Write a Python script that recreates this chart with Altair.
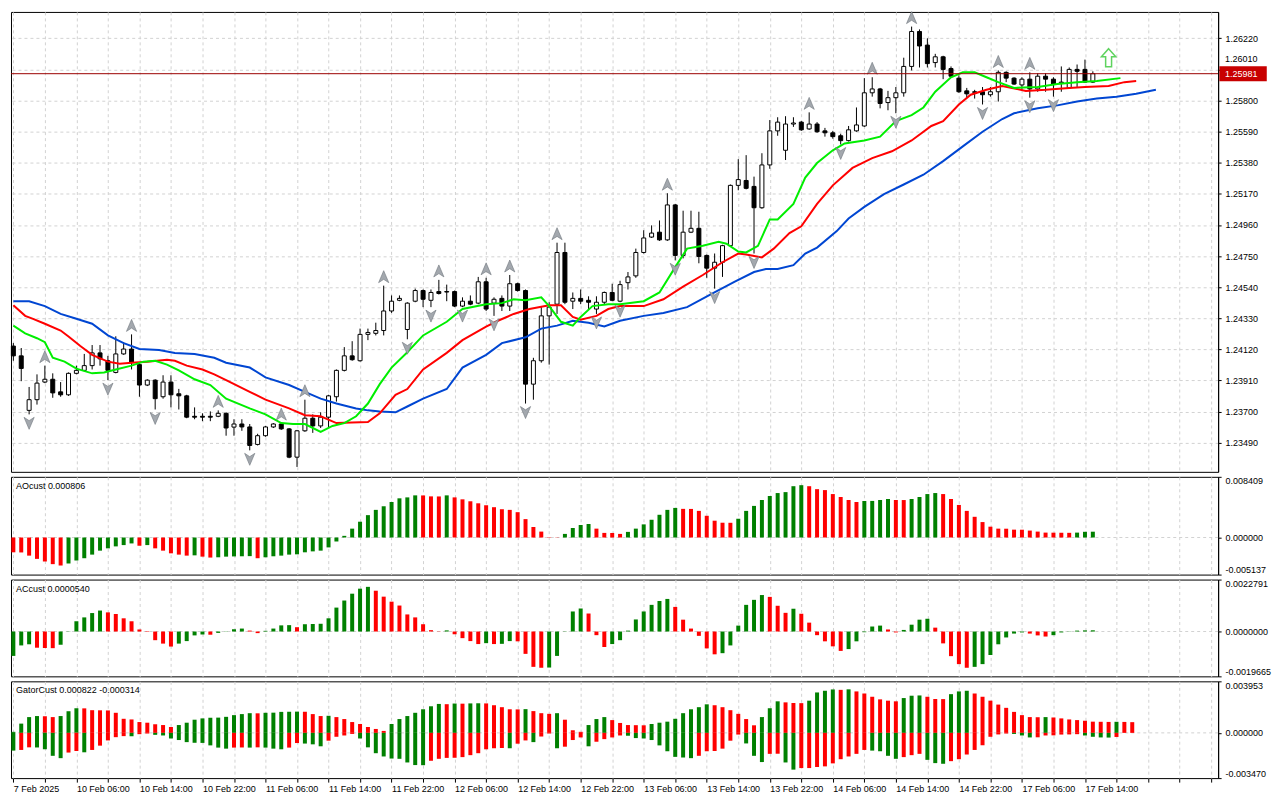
import altair as alt
import pandas as pd

# ---------------- data ----------------
time_labels = ["7 Feb 2025", "10 Feb 06:00", "10 Feb 14:00", "10 Feb 22:00", "11 Feb 06:00",
               "11 Feb 14:00", "11 Feb 22:00", "12 Feb 06:00", "12 Feb 14:00", "12 Feb 22:00",
               "13 Feb 06:00", "13 Feb 14:00", "13 Feb 22:00", "14 Feb 06:00", "14 Feb 14:00",
               "14 Feb 22:00", "17 Feb 06:00", "17 Feb 14:00"]

opens = [1.24142, 1.24076, 1.23708, 1.23780, 1.23899, 1.23918, 1.23833, 1.23813, 1.23958, 1.23978,
         1.24010, 1.24096, 1.24043, 1.23964, 1.24089, 1.24122, 1.24017, 1.23879, 1.23912, 1.23800,
         1.23899, 1.23820, 1.23806, 1.23668, 1.23668, 1.23668, 1.23668, 1.23688, 1.23595, 1.23616,
         1.23596, 1.23478, 1.23537, 1.23596, 1.23616, 1.23583, 1.23392, 1.23570, 1.23655, 1.23603,
         1.23662, 1.23800, 1.23978, 1.24076, 1.24043, 1.24221, 1.24228, 1.24247, 1.24379, 1.24451,
         1.24254, 1.24445, 1.24517, 1.24451, 1.24510, 1.24510, 1.24510, 1.24412, 1.24445, 1.24432,
         1.24576, 1.24432, 1.24464, 1.24412, 1.24563, 1.24517, 1.23885, 1.24043, 1.24346, 1.24425,
         1.24774, 1.24445, 1.24464, 1.24451, 1.24392, 1.24438, 1.24504, 1.24445, 1.24570, 1.24616,
         1.24774, 1.24878, 1.24911, 1.24859, 1.25095, 1.24754, 1.24911, 1.24937, 1.24754, 1.24668,
         1.24708, 1.24820, 1.25227, 1.25260, 1.25220, 1.25076, 1.25365, 1.25595, 1.25464, 1.25641,
         1.25654, 1.25608, 1.25641, 1.25595, 1.25582, 1.25562, 1.25529, 1.25595, 1.25628, 1.25852,
         1.25878, 1.25786, 1.25819, 1.25852, 1.26030, 1.26266, 1.26174, 1.26056, 1.26095, 1.26016,
         1.25951, 1.25865, 1.25859, 1.25859, 1.25839, 1.25859, 1.25990, 1.25951, 1.25905, 1.25944,
         1.25878, 1.25964, 1.25944, 1.25918, 1.25885, 1.26010, 1.26010, 1.25924]
highs = [1.24162, 1.24129, 1.23866, 1.23951, 1.24010, 1.23958, 1.23899, 1.23964, 1.24010, 1.24089,
         1.24149, 1.24149, 1.24076, 1.24208, 1.24168, 1.24221, 1.24030, 1.23918, 1.23918, 1.23945,
         1.23945, 1.23853, 1.23813, 1.23728, 1.23688, 1.23701, 1.23708, 1.23694, 1.23648, 1.23648,
         1.23616, 1.23550, 1.23603, 1.23622, 1.23622, 1.23589, 1.23576, 1.23780, 1.23681, 1.23695,
         1.23813, 1.23984, 1.24135, 1.24175, 1.24260, 1.24260, 1.24300, 1.24550, 1.24484, 1.24484,
         1.24438, 1.24530, 1.24524, 1.24524, 1.24589, 1.24557, 1.24517, 1.24471, 1.24484, 1.24609,
         1.24603, 1.24471, 1.24484, 1.24622, 1.24570, 1.24524, 1.24063, 1.24405, 1.24438, 1.24840,
         1.24840, 1.24504, 1.24524, 1.24478, 1.24478, 1.24510, 1.24563, 1.24583, 1.24642, 1.24800,
         1.24924, 1.24957, 1.24990, 1.25174, 1.25102, 1.25056, 1.25056, 1.25049, 1.24760, 1.24767,
         1.24826, 1.25233, 1.25404, 1.25431, 1.25286, 1.25444, 1.25668, 1.25687, 1.25694, 1.25687,
         1.25661, 1.25720, 1.25654, 1.25615, 1.25595, 1.25576, 1.25628, 1.25753, 1.25951, 1.25957,
         1.25885, 1.25865, 1.25891, 1.26089, 1.26299, 1.26280, 1.26220, 1.26115, 1.26102, 1.26030,
         1.25970, 1.25885, 1.25872, 1.25891, 1.25891, 1.26003, 1.25997, 1.25957, 1.25957, 1.25990,
         1.25984, 1.25984, 1.25957, 1.26030, 1.26023, 1.26043, 1.26076, 1.25997]
lows = [1.24043, 1.23905, 1.23681, 1.23747, 1.23892, 1.23793, 1.23800, 1.23806, 1.23951, 1.23971,
        1.23984, 1.24010, 1.23912, 1.23958, 1.24083, 1.23984, 1.23800, 1.23872, 1.23714, 1.23787,
        1.23728, 1.23714, 1.23655, 1.23648, 1.23635, 1.23635, 1.23662, 1.23537, 1.23537, 1.23570,
        1.23438, 1.23471, 1.23530, 1.23589, 1.23576, 1.23385, 1.23326, 1.23563, 1.23556, 1.23589,
        1.23589, 1.23767, 1.23971, 1.24043, 1.24037, 1.24182, 1.24214, 1.24214, 1.24366, 1.24445,
        1.24188, 1.24438, 1.24405, 1.24405, 1.24490, 1.24445, 1.24405, 1.24405, 1.24418, 1.24425,
        1.24379, 1.24346, 1.24379, 1.24379, 1.24510, 1.23754, 1.23780, 1.24030, 1.24017, 1.24359,
        1.24425, 1.24392, 1.24425, 1.24392, 1.24359, 1.24425, 1.24445, 1.24438, 1.24524, 1.24603,
        1.24767, 1.24872, 1.24852, 1.24852, 1.24721, 1.24734, 1.24905, 1.24701, 1.24603, 1.24530,
        1.24609, 1.24813, 1.25194, 1.25200, 1.24767, 1.25069, 1.25339, 1.25562, 1.25398, 1.25622,
        1.25595, 1.25602, 1.25582, 1.25556, 1.25542, 1.25503, 1.25523, 1.25589, 1.25622, 1.25826,
        1.25747, 1.25734, 1.25714, 1.25826, 1.26003, 1.26023, 1.26023, 1.26023, 1.25944, 1.25957,
        1.25852, 1.25819, 1.25813, 1.25773, 1.25826, 1.25793, 1.25924, 1.25905, 1.25872, 1.25819,
        1.25859, 1.25859, 1.25826, 1.25859, 1.25878, 1.25885, 1.25918, 1.25918]
closes = [1.24076, 1.23991, 1.23780, 1.23892, 1.23918, 1.23826, 1.23813, 1.23958, 1.23978, 1.24010,
          1.24096, 1.24056, 1.23978, 1.24089, 1.24122, 1.24030, 1.23879, 1.23912, 1.23787, 1.23899,
          1.23813, 1.23806, 1.23662, 1.23662, 1.23662, 1.23662, 1.23688, 1.23589, 1.23616, 1.23596,
          1.23471, 1.23537, 1.23596, 1.23616, 1.23583, 1.23392, 1.23570, 1.23655, 1.23603, 1.23662,
          1.23806, 1.23978, 1.24076, 1.24050, 1.24221, 1.24234, 1.24247, 1.24379, 1.24445, 1.24464,
          1.24432, 1.24517, 1.24458, 1.24504, 1.24497, 1.24507, 1.24412, 1.24445, 1.24425, 1.24576,
          1.24392, 1.24458, 1.24412, 1.24563, 1.24517, 1.23885, 1.24043, 1.24346, 1.24405, 1.24774,
          1.24438, 1.24464, 1.24445, 1.24438, 1.24438, 1.24504, 1.24451, 1.24557, 1.24609, 1.24774,
          1.24872, 1.24905, 1.24859, 1.25095, 1.24754, 1.24911, 1.24937, 1.24747, 1.24668, 1.24708,
          1.24820, 1.25227, 1.25266, 1.25207, 1.25076, 1.25365, 1.25595, 1.25654, 1.25641, 1.25648,
          1.25602, 1.25641, 1.25589, 1.25582, 1.25556, 1.25529, 1.25602, 1.25635, 1.25852, 1.25878,
          1.25780, 1.25819, 1.25852, 1.26030, 1.26266, 1.26168, 1.26049, 1.26095, 1.26010, 1.25964,
          1.25859, 1.25845, 1.25855, 1.25839, 1.25859, 1.25990, 1.25951, 1.25911, 1.25944, 1.25878,
          1.25964, 1.25944, 1.25911, 1.25924, 1.26010, 1.25997, 1.25924, 1.25981]

jaw_i = [0, 2, 4, 6, 8, 10, 12, 14, 16, 18.5, 20.5, 23, 25.5, 27, 30, 32, 35, 37, 39, 41, 43.5, 45,
         46.5, 48.5, 50, 52, 55, 57, 60, 62, 65, 67, 69, 71, 73, 75, 77, 80, 82.5, 85.5, 88.5, 91.5,
         94, 95.5, 97, 99, 100.5, 102, 104.5, 106, 108, 110.5, 113, 115.5, 118, 120.5, 123, 125.5,
         127, 130, 132.5, 135, 137.5, 140, 142.5, 145]
jaw_v = [1.24445, 1.24445, 1.24412, 1.24359, 1.24326, 1.24293, 1.24214, 1.24162, 1.24122, 1.24116,
         1.24096, 1.24089, 1.24063, 1.24030, 1.23997, 1.23931, 1.23879, 1.23833, 1.23787, 1.23754,
         1.23721, 1.23708, 1.23701, 1.23695, 1.23734, 1.23787, 1.23852, 1.23997, 1.24083, 1.24162,
         1.24201, 1.24260, 1.24280, 1.24313, 1.24300, 1.24274, 1.24313, 1.24346, 1.24366, 1.24405,
         1.24491, 1.24576, 1.24642, 1.24662, 1.24662, 1.24688, 1.24767, 1.24807, 1.24918, 1.25003,
         1.25082, 1.25168, 1.25233, 1.25299, 1.25391, 1.25490, 1.25589, 1.25675, 1.25714, 1.25747,
         1.25767, 1.25793, 1.25813, 1.25826, 1.25845, 1.25872]
teeth_i = [0, 1.5, 2.5, 4, 6, 7, 8.5, 10, 12, 13.5, 15, 17, 19.5, 20.5, 22, 24, 25.5, 27, 30, 32,
           35, 37, 39, 41, 45, 46.5, 48.5, 50, 52, 55, 57, 60, 61.5, 63.5, 65.5, 68, 69.5, 71, 72,
           74, 75.5, 77, 80, 82.5, 85, 87.5, 90, 92, 93, 95, 96.5, 98.5, 100, 102, 104, 106.5, 109,
           111.5, 114, 116.5, 118, 120, 121.5, 123.5, 125.5, 128.5, 131, 134, 136, 139, 141, 142.5]
teeth_v = [1.24418, 1.24346, 1.24326, 1.24293, 1.24247, 1.24207, 1.24142, 1.24083, 1.24037, 1.24023,
           1.24030, 1.24037, 1.24050, 1.24043, 1.24010, 1.23984, 1.23951, 1.23912, 1.23833, 1.23780,
           1.23721, 1.23675, 1.23668, 1.23622, 1.23629, 1.23688, 1.23813, 1.23852, 1.23984, 1.24096,
           1.24182, 1.24274, 1.24313, 1.24359, 1.24392, 1.24418, 1.24418, 1.24339, 1.24320, 1.24346,
           1.24392, 1.24412, 1.24412, 1.24458, 1.24543, 1.24622, 1.24708, 1.24767, 1.24760, 1.24741,
           1.24800, 1.24905, 1.24951, 1.25102, 1.25227, 1.25345, 1.25411, 1.25457, 1.25530, 1.25628,
           1.25661, 1.25773, 1.25839, 1.25872, 1.25898, 1.25865, 1.25872, 1.25885, 1.25891, 1.25898,
           1.25924, 1.25931]
lips_i = [0, 1.5, 3, 4, 5, 6.5, 8, 10, 11.5, 13, 15, 16.5, 18, 19.5, 21, 23, 25, 27, 30, 32, 34,
          35.5, 37, 39, 40.5, 42, 43.5, 45, 46.5, 48, 50, 52, 55, 57, 60, 62, 63.5, 65, 67, 68, 69.5,
          71, 72, 73.5, 75.5, 77, 80, 82, 84, 85.5, 87.5, 89.5, 90.5, 92, 93, 94.5, 96, 97, 99, 100.5,
          102, 104, 105.5, 108, 110, 112, 114, 115.5, 117, 119, 120.5, 122, 123.5, 125, 127, 130,
          132.5, 135, 137.5, 140.5]
lips_v = [1.24280, 1.24228, 1.24195, 1.24168, 1.24063, 1.24037, 1.23990, 1.23958, 1.23964, 1.23984,
          1.24010, 1.24037, 1.24043, 1.24017, 1.23978, 1.23918, 1.23879, 1.23787, 1.23721, 1.23681,
          1.23622, 1.23616, 1.23616, 1.23563, 1.23603, 1.23622, 1.23668, 1.23754, 1.23885, 1.23997,
          1.24100, 1.24214, 1.24306, 1.24392, 1.24425, 1.24432, 1.24458, 1.24451, 1.24471, 1.24412,
          1.24306, 1.24280, 1.24339, 1.24412, 1.24425, 1.24425, 1.24445, 1.24504, 1.24675, 1.24800,
          1.24819, 1.24846, 1.24833, 1.24780, 1.24774, 1.24819, 1.24997, 1.24997, 1.25102, 1.25280,
          1.25378, 1.25464, 1.25510, 1.25530, 1.25556, 1.25661, 1.25701, 1.25753, 1.25859, 1.25957,
          1.25990, 1.25990, 1.25957, 1.25924, 1.25885, 1.25891, 1.25911, 1.25924, 1.25931, 1.25951]

up_fractals = [4, 15, 26, 34, 37, 47, 54, 60, 63, 69, 83, 101, 109, 114, 125, 129]
down_fractals = [2, 12, 18, 30, 50, 53, 57, 61, 65, 74, 77, 84, 89, 94, 105, 112, 123, 129, 132]
signal_i = [139]
signal_v = [1.26089]
current_price = 1.25981
price_ticks = [1.23490, 1.23700, 1.23910, 1.24120, 1.24330, 1.24540, 1.24750, 1.24960,
               1.25170, 1.25380, 1.25590, 1.25800, 1.26010, 1.26220]
hidden_tick = [1.26010]   # tick whose label sits right above the current-price box

ao = [-0.00205, -0.00207, -0.00251, -0.00296, -0.00333, -0.00369, -0.00388, -0.00360, -0.00319, -0.00287,
      -0.00237, -0.00182, -0.00150, -0.00123, -0.00105, -0.00082, -0.00114, -0.00105, -0.00150, -0.00182,
      -0.00219, -0.00237, -0.00251, -0.00247, -0.00265, -0.00278, -0.00274, -0.00265, -0.00262, -0.00260,
      -0.00258, -0.00287, -0.00274, -0.00260, -0.00251, -0.00237, -0.00233, -0.00205, -0.00192, -0.00182,
      -0.00137, -0.00055, 0.00023, 0.00123, 0.00219, 0.00310, 0.00383, 0.00433, 0.00492, 0.00543,
      0.00556, 0.00584, 0.00583, 0.00570, 0.00569, 0.00584, 0.00556, 0.00529, 0.00502, 0.00474,
      0.00447, 0.00420, 0.00392, 0.00383, 0.00351, 0.00255, 0.00146, 0.00082, 0.00005, -0.00003,
      0.00050, 0.00132, 0.00173, 0.00187, 0.00123, 0.00064, 0.00063, 0.00050, 0.00078, 0.00123,
      0.00182, 0.00246, 0.00315, 0.00383, 0.00410, 0.00397, 0.00396, 0.00369, 0.00301, 0.00233,
      0.00205, 0.00204, 0.00260, 0.00369, 0.00438, 0.00520, 0.00575, 0.00616, 0.00629, 0.00711,
      0.00725, 0.00711, 0.00670, 0.00657, 0.00602, 0.00561, 0.00520, 0.00492, 0.00506, 0.00507,
      0.00520, 0.00534, 0.00520, 0.00519, 0.00534, 0.00561, 0.00602, 0.00616, 0.00602, 0.00534,
      0.00451, 0.00369, 0.00287, 0.00214, 0.00150, 0.00123, 0.00122, 0.00109, 0.00108, 0.00096,
      0.00082, 0.00068, 0.00067, 0.00066, 0.00065, 0.00068, 0.00079, 0.000806]
ac = [-0.00107, -0.00061, -0.00056, -0.00071, -0.00072, -0.00073, -0.00058, 0.00001, 0.00045, 0.00062,
      0.00081, 0.00092, 0.00084, 0.00077, 0.00058, 0.00045, 0.00009, 0.00002, -0.00038, -0.00053,
      -0.00066, -0.00053, -0.00042, -0.00017, -0.00013, -0.00014, -0.00006, -0.00001, 0.00010, 0.00013,
      0.00004, -0.00007, 0.00003, 0.00013, 0.00027, 0.00028, 0.00019, 0.00032, 0.00033, 0.00034,
      0.00058, 0.00105, 0.00136, 0.00166, 0.00188, 0.00196, 0.00179, 0.00153, 0.00131, 0.00114,
      0.00075, 0.00062, 0.00032, 0.00006, -0.00001, 0.00005, -0.00012, -0.00029, -0.00042, -0.00055,
      -0.00051, -0.00055, -0.00054, -0.00042, -0.00043, -0.00098, -0.00155, -0.00159, -0.00158, -0.00107,
      0.00001, 0.00088, 0.00101, 0.00079, -0.00016, -0.00068, -0.00055, -0.00038, 0.00004, 0.00053,
      0.00088, 0.00117, 0.00134, 0.00143, 0.00108, 0.00052, 0.00013, -0.00019, -0.00074, -0.00100,
      -0.00095, -0.00061, 0.00026, 0.00117, 0.00139, 0.00160, 0.00152, 0.00113, 0.00082, 0.00100,
      0.00078, 0.00039, -0.00016, -0.00043, -0.00065, -0.00085, -0.00077, -0.00043, -0.00003, 0.00022,
      0.00026, 0.00009, -0.00004, 0.00007, 0.00030, 0.00052, 0.00056, 0.00017, -0.00052, -0.00108,
      -0.00143, -0.00159, -0.00155, -0.00143, -0.00103, -0.00056, -0.00026, -0.00009, -0.00004, -0.00009,
      -0.00017, -0.00022, -0.00016, -0.00004, 0.00001, 0.00004, 0.00005, 0.000054]
gator_up = [0.00008, 0.00071, 0.00121, 0.00129, 0.00128, 0.00121, 0.00129, 0.00166, 0.00189, 0.00188,
            0.00174, 0.00173, 0.00172, 0.00154, 0.00108, 0.00103, 0.00083, 0.00078, 0.00066, 0.00060,
            0.00045, 0.00060, 0.00078, 0.00101, 0.00111, 0.00116, 0.00117, 0.00123, 0.00136, 0.00144,
            0.00151, 0.00150, 0.00154, 0.00155, 0.00161, 0.00162, 0.00163, 0.00162, 0.00144, 0.00129,
            0.00131, 0.00121, 0.00106, 0.00083, 0.00068, 0.00045, 0.00030, 0.00015, 0.00068, 0.00106,
            0.00129, 0.00154, 0.00181, 0.00204, 0.00222, 0.00220, 0.00225, 0.00224, 0.00226, 0.00227,
            0.00226, 0.00212, 0.00197, 0.00181, 0.00180, 0.00182, 0.00167, 0.00151, 0.00146, 0.00151,
            0.00101, 0.00020, 0.00008, 0.00060, 0.00106, 0.00121, 0.00098, 0.00076, 0.00060, 0.00059,
            0.00058, 0.00068, 0.00078, 0.00086, 0.00108, 0.00151, 0.00181, 0.00197, 0.00219, 0.00212,
            0.00197, 0.00174, 0.00146, 0.00106, 0.00058, 0.00121, 0.00189, 0.00242, 0.00234, 0.00229,
            0.00228, 0.00247, 0.00310, 0.00323, 0.00333, 0.00330, 0.00334, 0.00318, 0.00302, 0.00277,
            0.00257, 0.00247, 0.00242, 0.00267, 0.00285, 0.00287, 0.00277, 0.00260, 0.00259, 0.00297,
            0.00318, 0.00323, 0.00302, 0.00277, 0.00247, 0.00217, 0.00192, 0.00161, 0.00136, 0.00121,
            0.00120, 0.00121, 0.00118, 0.00111, 0.00103, 0.00098, 0.00093, 0.00086, 0.00085, 0.00084,
            0.00085, 0.00084, 0.000822]
gator_dn = [0.00136, 0.00131, 0.00111, 0.00112, 0.00126, 0.00176, 0.00194, 0.00151, 0.00139, 0.00149,
            0.00131, 0.00098, 0.00058, 0.00033, 0.00025, 0.00026, 0.00010, 0.00005, 0.00015, 0.00020,
            0.00043, 0.00055, 0.00071, 0.00076, 0.00077, 0.00096, 0.00113, 0.00121, 0.00113, 0.00112,
            0.00113, 0.00111, 0.00113, 0.00121, 0.00126, 0.00113, 0.00078, 0.00082, 0.00088, 0.00103,
            0.00060, 0.00030, 0.00020, 0.00008, 0.00043, 0.00111, 0.00156, 0.00181, 0.00197, 0.00199,
            0.00227, 0.00247, 0.00248, 0.00214, 0.00199, 0.00192, 0.00191, 0.00186, 0.00171, 0.00156,
            0.00126, 0.00118, 0.00116, 0.00118, 0.00083, 0.00058, 0.00071, 0.00028, 0.00005, 0.00118,
            0.00106, 0.00055, 0.00035, 0.00103, 0.00068, 0.00048, 0.00035, 0.00020, 0.00022, 0.00040,
            0.00043, 0.00055, 0.00096, 0.00141, 0.00184, 0.00189, 0.00194, 0.00176, 0.00141, 0.00139,
            0.00121, 0.00060, 0.00013, 0.00081, 0.00176, 0.00224, 0.00161, 0.00160, 0.00227, 0.00282,
            0.00270, 0.00270, 0.00262, 0.00257, 0.00234, 0.00202, 0.00181, 0.00161, 0.00131, 0.00136,
            0.00141, 0.00176, 0.00199, 0.00186, 0.00171, 0.00161, 0.00207, 0.00232, 0.00237, 0.00217,
            0.00202, 0.00166, 0.00131, 0.00095, 0.00030, 0.00012, 0.00005, 0.00008, 0.00020, 0.00035,
            0.00034, 0.00020, 0.00019, 0.00013, 0.00012, 0.00010, 0.00020, 0.00030, 0.00035, 0.00036,
            0.000314]

# ---------------- styling ----------------
FONT = "Liberation Sans"
GRID = "#d2d2d2"
GREEN = "#008000"
RED = "#ff0000"
W = 1210
H_MAIN, H_AO, H_AC, H_G = 461, 98, 97, 97
XDOM = [-0.3, 152.9]
YDOM = [1.23293, 1.26398]

UP_PATH = "M0,-1 L0.85,1 L0,0.45 L-0.85,1 Z"
DN_PATH = "M0,1 L0.85,-1 L0,-0.45 L-0.85,-1 Z"
SIG_PATH = "M0,-1 L0.8,-0.1 L0.33,-0.1 L0.33,1 L-0.33,1 L-0.33,-0.1 L-0.8,-0.1 Z"
BOX_PATH = "M-3.5,-1 L3.5,-1 L3.5,1 L-3.5,1 Z"

grid_vals = list(range(0, 153, 4))
label_expr = "".join(f"datum.value == {8 * k} ? '{t}' : " for k, t in enumerate(time_labels)) + "''"
XSCALE = alt.Scale(domain=XDOM, nice=False, zero=False, padding=0)


def x_axis(bottom=False):
    common = dict(values=grid_vals, grid=True, gridDash=[3, 3], gridColor=GRID, title=None, domain=False)
    if bottom:
        return alt.Axis(labels=True, ticks=True, tickSize=4, tickColor="black", labelExpr=label_expr,
                        labelAlign="left", labelAngle=0, labelPadding=2, labelOverlap=False,
                        labelFlush=False, labelBound=False, **common)
    return alt.Axis(labels=False, ticks=False, **common)


def X(field="i", bottom=False):
    return alt.X(f"{field}:Q", scale=XSCALE, axis=x_axis(bottom))


hid = hidden_tick[0]
main_yaxis = alt.Axis(orient="right", values=price_ticks, grid=True, gridDash=[3, 3],
                      gridColor=GRID, tickSize=3, tickColor="black", domainColor="black",
                      labelPadding=4, title=None, labelFlush=False, labelOverlap=False,
                      labelExpr=f"abs(datum.value - {hid}) < 0.00001 ? '' : format(datum.value, '.5f')")


def YP(field):
    return alt.Y(f"{field}:Q", scale=alt.Scale(domain=YDOM, nice=False, zero=False, padding=0), axis=main_yaxis)


# ---------------- main price panel ----------------
n = len(opens)
cdf = pd.DataFrame({"i": list(range(n)), "open": opens, "high": highs, "low": lows, "close": closes})
cdf["fillc"] = ["white" if c >= o else "black" for o, c in zip(opens, closes)]

wicks = alt.Chart(cdf).mark_rule(color="black", strokeWidth=1).encode(x=X(), y=YP("low"), y2="high:Q")
bodies = alt.Chart(cdf).mark_bar(size=4, stroke="black", strokeWidth=1).encode(
    x=X(), y=YP("open"), y2="close:Q", fill=alt.Fill("fillc:N", scale=None))


def line_layer(xs, vs, color):
    df = pd.DataFrame({"i": xs, "v": vs})
    return alt.Chart(df).mark_line(color=color, strokeWidth=2).encode(x=X(), y=YP("v"))


jaw = line_layer(jaw_i, jaw_v, "#0046d2")
teeth = line_layer(teeth_i, teeth_v, "#ff0000")
lips = line_layer(lips_i, lips_v, "#00ee00")

fu_df = pd.DataFrame({"i": up_fractals, "v": [highs[k] for k in up_fractals]})
fd_df = pd.DataFrame({"i": down_fractals, "v": [lows[k] for k in down_fractals]})
frac_up = alt.Chart(fu_df).mark_point(shape=UP_PATH, size=144, filled=True, fill="#a3a8ae",
                                      stroke="#6f757c", strokeWidth=0.6, opacity=1, yOffset=-9).encode(
    x=X(), y=YP("v"))
frac_dn = alt.Chart(fd_df).mark_point(shape=DN_PATH, size=144, filled=True, fill="#a3a8ae",
                                      stroke="#6f757c", strokeWidth=0.6, opacity=1, yOffset=9).encode(
    x=X(), y=YP("v"))

sig_df = pd.DataFrame({"i": signal_i, "v": signal_v})
signal = alt.Chart(sig_df).mark_point(shape=SIG_PATH, size=324, filled=True, fill="white",
                                      stroke="#5fd35f", strokeWidth=1.5, opacity=1).encode(x=X(), y=YP("v"))

cp_df = pd.DataFrame({"p": [current_price]})
cp_rule = alt.Chart(cp_df).mark_rule(color="#9c0000", strokeWidth=1).encode(y=YP("p"))
cp_box = alt.Chart(cp_df).mark_point(shape=BOX_PATH, size=169, filled=True, fill="#c80000",
                                     stroke="#c80000", opacity=1).encode(x=alt.value(W + 25), y=YP("p"))
cp_text = alt.Chart(cp_df).mark_text(align="left", baseline="middle", color="white", font=FONT,
                                     fontSize=9).encode(x=alt.value(W + 7), y=YP("p"),
                                                        text=alt.Text("p:Q", format=".5f"))
# label of the tick just above the price box, lifted so the box does not cover it
ht_df = pd.DataFrame({"p": hidden_tick})
ht_text = alt.Chart(ht_df).mark_text(align="left", baseline="bottom", color="black", font=FONT,
                                     fontSize=9, dy=-5).encode(x=alt.value(W + 7), y=YP("p"),
                                                               text=alt.Text("p:Q", format=".5f"))

main = alt.layer(wicks, bodies, jaw, teeth, lips, frac_up, frac_dn, signal, cp_rule, cp_box, cp_text,
                 ht_text).properties(width=W, height=H_MAIN)


# ---------------- indicator panels ----------------
def trend_colors(vals, first, use_abs=False):
    out = []
    for k, v in enumerate(vals):
        if k == 0:
            out.append(first)
            continue
        a, b = (abs(v), abs(vals[k - 1])) if use_abs else (v, vals[k - 1])
        out.append(GREEN if a > b else RED)
    return out


def ind_panel(df, ymin, ymax, top_lab, zero_lab, bot_lab, title, height, bottom=False):
    yax = alt.Axis(orient="right", values=[ymin, 0, ymax], grid=False, tickSize=3, tickColor="black",
                   domainColor="black", labelPadding=4, labelFlush=True, title=None, labelOverlap=False,
                   labelExpr=f"datum.value > 0 ? '{top_lab}' : (datum.value < 0 ? '{bot_lab}' : '{zero_lab}')")
    ysc = alt.Scale(domain=[ymin, ymax], nice=False, zero=False, padding=0)
    zdf = pd.DataFrame({"z": [0.0]})
    zero = alt.Chart(zdf).mark_rule(color=GRID, strokeDash=[3, 3], strokeWidth=1).encode(
        y=alt.Y("z:Q", scale=ysc, axis=yax))
    bars = alt.Chart(df).mark_bar(size=4).encode(
        x=X(bottom=bottom), y=alt.Y("v:Q", scale=ysc, axis=yax), y2="zero:Q",
        color=alt.Color("col:N", scale=None))
    tdf = pd.DataFrame({"t": [title]})
    txt = alt.Chart(tdf).mark_text(align="left", baseline="middle", font=FONT, fontSize=9,
                                   color="black").encode(x=alt.value(5), y=alt.value(9), text="t:N")
    return alt.layer(zero, bars, txt).properties(width=W, height=height)


ao_df = pd.DataFrame({"i": list(range(len(ao))), "v": ao, "zero": 0.0, "col": trend_colors(ao, RED)})
ac_df = pd.DataFrame({"i": list(range(len(ac))), "v": ac, "zero": 0.0, "col": trend_colors(ac, GREEN)})
g_up = pd.DataFrame({"i": list(range(len(gator_up))), "v": gator_up, "zero": 0.0,
                     "col": trend_colors(gator_up, GREEN)})
g_dn = pd.DataFrame({"i": list(range(len(gator_dn))), "v": [-x for x in gator_dn], "zero": 0.0,
                     "col": trend_colors(gator_dn, GREEN, use_abs=True)})
g_df = pd.concat([g_up, g_dn], ignore_index=True)

ao_panel = ind_panel(ao_df, -0.005137, 0.008409, "0.008409", "0.000000", "-0.005137",
                     "AOcust 0.000806", H_AO)
ac_panel = ind_panel(ac_df, -0.0019665, 0.0022791, "0.0022791", "0.0000000", "-0.0019665",
                     "ACcust 0.0000540", H_AC)
g_panel = ind_panel(g_df, -0.003470, 0.003953, "0.003953", "0.000000", "-0.003470",
                    "GatorCust 0.000822 -0.000314", H_G, bottom=True)

chart = alt.vconcat(main, ao_panel, ac_panel, g_panel, spacing=3).properties(
    padding={"left": 0, "top": 0, "right": 0, "bottom": 0}, background="white"
).configure_view(stroke="black", strokeWidth=1).configure_axis(
    labelFont=FONT, labelFontSize=9, labelColor="black"
)

chart.save("out.html", embed_options={"renderer": "svg", "actions": False})
